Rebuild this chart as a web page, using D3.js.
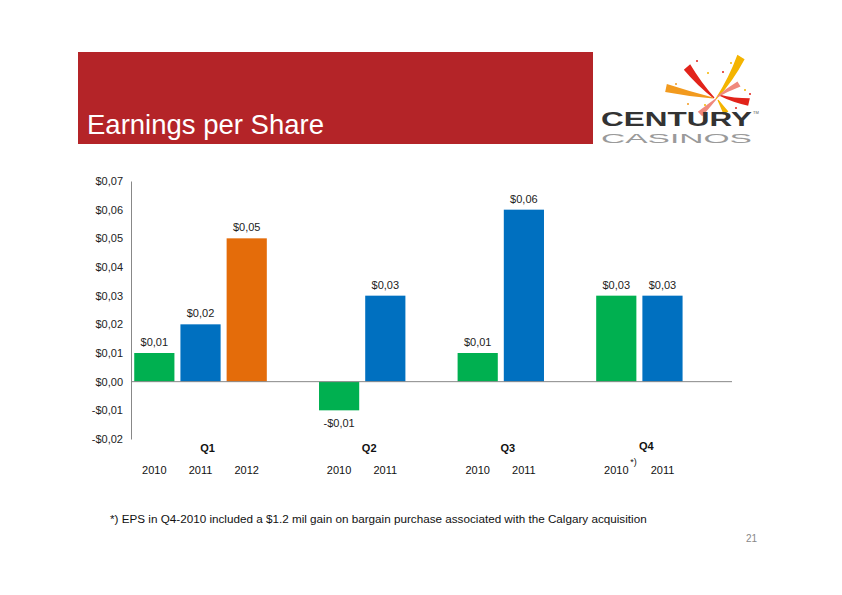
<!DOCTYPE html>
<html><head><meta charset="utf-8">
<script src="https://cdn.jsdelivr.net/npm/d3@7"></script>
<style>body{margin:0;background:#fff}svg{display:block}text{font-family:"Liberation Sans",Arial,sans-serif}</style>
</head><body><svg id="c" width="842" height="595"></svg>
<script>
// ---- data ----
const slots = ["Q1-2010","Q1-2011","Q1-2012","gap1","Q2-2010","Q2-2011","gap2","Q3-2010","Q3-2011","gap3","Q4-2010","Q4-2011","gap4"];
const barKeys = ["Q1-2010","Q1-2011","Q1-2012","Q2-2010","Q2-2011","Q3-2010","Q3-2011","Q4-2010","Q4-2011"];
const barValues = [0.01,0.02,0.05,-0.01,0.03,0.01,0.06,0.03,0.03];
const barYears = ["2010","2011","2012","2010","2011","2010","2011","2010","2011"];
const quarters = ["Q1","Q2","Q3","Q4"];
const quarterSlots = [["Q1-2010","Q1-2012"],["Q2-2010","Q2-2011"],["Q3-2010","Q3-2011"],["Q4-2010","Q4-2011"]];
const yTicks = [0.07,0.06,0.05,0.04,0.03,0.02,0.01,0,-0.01,-0.02];
const yearColor = {"2010":"#00B050","2011":"#0070C0","2012":"#E46C0A"};

const svg = d3.select("#c");
const fmt = v => (v<0?"-":"") + "$" + Math.abs(v).toFixed(2).replace(".", ",");

// ---- banner ----
svg.append("rect").attr("x",78).attr("y",52).attr("width",515).attr("height",92).attr("fill","#B42428");
svg.append("text").attr("x",87).attr("y",134).attr("fill","#fff").attr("font-size",27.5).text("Earnings per Share");

// ---- logo ----
const lg = svg.append("g");
function ray(x1,y1,x2,y2,w,color,bend){ // x1,y1 outer (wide), x2,y2 inner (narrow)
  const dx=x2-x1, dy=y2-y1, L=Math.hypot(dx,dy), nx=-dy/L, ny=dx/L;
  const mx=(x1+x2)/2+nx*bend, my=(y1+y2)/2+ny*bend;
  const a=[x1+nx*w,y1+ny*w], b=[x1-nx*w,y1-ny*w];
  const d=`M${a}Q${mx+nx*w*0.6},${my+ny*w*0.6} ${x2+nx*0.6},${y2+ny*0.6}L${x2-nx*0.6},${y2-ny*0.6}Q${mx-nx*w*0.6},${my-ny*w*0.6} ${b}Z`;
  lg.append("path").attr("d",d).attr("fill",color);
}
ray(741,57,716,99,4.2,"#F4B400",-3);
ray(687,67,714,98,4.2,"#E2231A",2);
ray(666,88,713,98,4,"#F29A1E",1);
ray(749,102,719,95,3.8,"#E2231A",-2);
ray(739,84,717,97,3,"#F0897C",1);
ray(700,114,716,99,3.2,"#F0897C",0);
ray(726,113,718,100,2.8,"#F4B400",0);
[[697,61,"#E2231A"],[723,72,"#E2231A"],[731,63,"#F4B400"],[676,84,"#F29A1E"],[745,90,"#F4B400"],[708,73,"#F4B400"],[688,104,"#F29A1E"],[736,108,"#E2231A"],[750,94,"#E2231A"],[705,105,"#F4B400"]]
  .forEach(d=>lg.append("circle").attr("cx",d[0]).attr("cy",d[1]).attr("r",1).attr("fill",d[2]));
lg.append("text").attr("x",601).attr("y",126).attr("font-size",19.5).attr("font-weight","bold").attr("fill","#333")
  .attr("textLength",151).attr("lengthAdjust","spacingAndGlyphs").text("CENTURY");
lg.append("text").attr("x",601).attr("y",142.5).attr("font-size",13).attr("fill","#9a9a9a")
  .attr("textLength",151).attr("lengthAdjust","spacingAndGlyphs").text("CASINOS");
lg.append("text").attr("x",753).attr("y",114).attr("font-size",4).attr("fill","#555").text("TM");

// ---- chart ----
const x = d3.scaleBand().domain(slots).range([131,732]).paddingInner(0.13).paddingOuter(0.07);
const y = d3.scaleLinear().domain([-0.02,0.07]).range([439,181]);

const yAxis = svg.append("g").attr("transform","translate(131,0)")
  .call(d3.axisLeft(y).tickValues(yTicks).tickSize(0).tickPadding(8).tickFormat(fmt));
yAxis.select(".domain").attr("stroke","#888");
yAxis.selectAll("text").attr("font-size",11).attr("fill","#222").attr("font-family","Liberation Sans, Arial, sans-serif");

const bars = barKeys.map((k,i)=>({k, v:barValues[i], yr:barYears[i]}));
svg.append("g").selectAll("rect").data(bars).join("rect")
  .attr("x",d=>x(d.k)).attr("width",x.bandwidth())
  .attr("y",d=>y(Math.max(0,d.v))).attr("height",d=>Math.abs(y(d.v)-y(0)))
  .attr("fill",d=>yearColor[d.yr]);

svg.append("line").attr("x1",131).attr("x2",732).attr("y1",y(0)).attr("y2",y(0)).attr("stroke","#888");

svg.append("g").selectAll("text").data(bars).join("text")
  .attr("x",d=>x(d.k)+x.bandwidth()/2)
  .attr("y",d=>d.v>=0 ? y(d.v)-7 : y(d.v)+17)
  .attr("text-anchor","middle").attr("font-size",11).attr("fill","#222").text(d=>fmt(d.v));

// year labels
svg.append("g").selectAll("text").data(bars).join("text")
  .attr("x",d=>x(d.k)+x.bandwidth()/2).attr("y",474)
  .attr("text-anchor","middle").attr("font-size",11).attr("fill","#111").text(d=>d.yr);
svg.append("text").attr("x",x("Q4-2010")+x.bandwidth()/2+14).attr("y",465)
  .attr("font-size",9).attr("fill","#111").text("*)");

// quarter labels
svg.append("g").selectAll("text").data(quarters).join("text")
  .attr("x",(d,i)=>(x(quarterSlots[i][0])+x(quarterSlots[i][1])+x.bandwidth())/2+7)
  .attr("y",(d,i)=>i===3?450:452)
  .attr("text-anchor","middle").attr("font-size",11).attr("font-weight","bold").attr("fill","#111").text(d=>d);

// footnote and page number
svg.append("text").attr("x",110).attr("y",523).attr("font-size",11.7).attr("fill","#111")
  .text("*) EPS in Q4-2010 included a $1.2 mil gain on bargain purchase associated with the Calgary acquisition");
svg.append("text").attr("x",757).attr("y",542).attr("text-anchor","end").attr("font-size",10).attr("fill","#888").text("21");
</script></body></html>
